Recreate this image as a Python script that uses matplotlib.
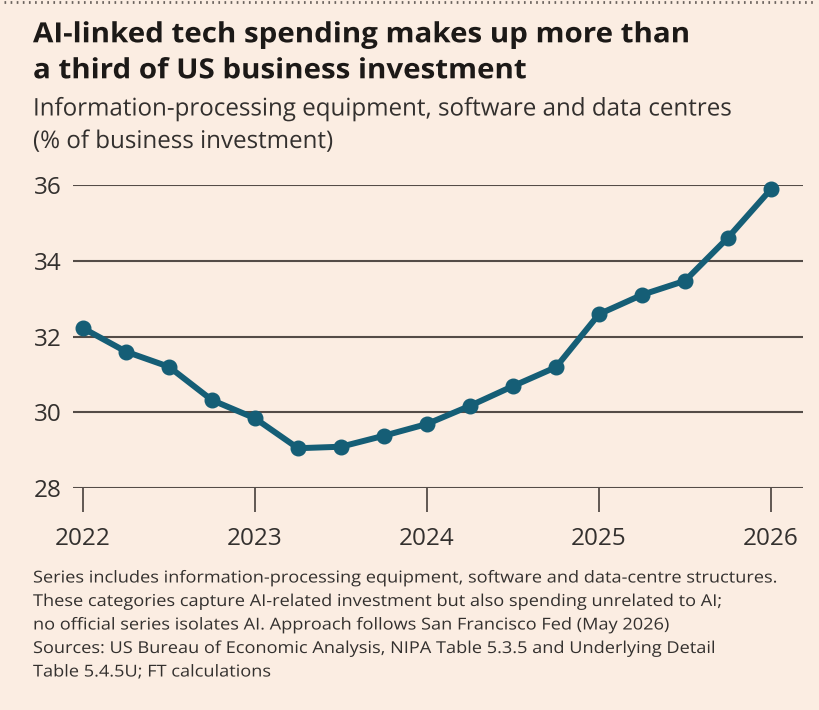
import matplotlib.pyplot as plt
from matplotlib.lines import Line2D
from matplotlib.patheffects import AbstractPathEffect
from matplotlib.transforms import Affine2D

# quarterly, 2022 Q1 .. 2026 Q1
quarters = [2022.0, 2022.25, 2022.5, 2022.75,
            2023.0, 2023.25, 2023.5, 2023.75,
            2024.0, 2024.25, 2024.5, 2024.75,
            2025.0, 2025.25, 2025.5, 2025.75,
            2026.0]
share = [32.22, 31.60, 31.20, 30.32,
         29.84, 29.05, 29.09, 29.38,
         29.69, 30.17, 30.69, 31.19,
         32.59, 33.10, 33.47, 34.61,
         35.89]
year_ticks = [2022, 2023, 2024, 2025, 2026]
y_ticks = [28, 30, 32, 34, 36]

title = ["AI-linked tech spending makes up more than",
         "a third of US business investment"]
subtitle = ["Information-processing equipment, software and data centres",
            "(% of business investment)"]
notes = ["Series includes information-processing equipment, software and data-centre structures.",
         "These categories capture AI-related investment but also spending unrelated to AI;",
         "no official series isolates AI. Approach follows San Francisco Fed (May 2026)",
         "Sources: US Bureau of Economic Analysis, NIPA Table 5.3.5 and Underlying Detail",
         "Table 5.4.5U; FT calculations"]

plt.rcParams['font.family'] = ['Open Sans', 'DejaVu Sans']

bg = '#FBEDE2'
teal = '#155E76'
grid = '#544c47'
txt = '#33302e'

W, H = 820, 710
fig = plt.figure(figsize=(8.2, 7.1), dpi=100, facecolor=bg)
ax = fig.add_axes([73/W, 1-488/H, 730/W, 303/H], facecolor=bg)

ax.plot(quarters, share, color=teal, lw=4.3, marker='o', ms=10.5, clip_on=False, zorder=3)

ax.set_xlim(2022 - 10/172, 2026 + 32/172)
ax.set_ylim(28, 36)
ax.set_yticks(y_ticks)
ax.set_xticks(year_ticks)
ax.set_yticklabels([str(v) for v in y_ticks])
ax.set_xticklabels([str(v) for v in year_ticks])
for v in y_ticks:
    ax.axhline(v, color=grid, lw=1.5, zorder=1)
for s in ax.spines.values():
    s.set_visible(False)
ax.tick_params(axis='y', length=0, pad=8, labelsize=17.5, labelcolor=txt)
ax.tick_params(axis='x', length=17, width=1.3, color=grid, pad=11, labelsize=17.5, labelcolor=txt)


# stretch/narrow each text block so its first line matches the reference width
class Squeeze(AbstractPathEffect):
    def __init__(self, sx, x0):
        super().__init__()
        self.sx = sx
        self.x0 = x0

    def draw_path(self, renderer, gc, tpath, affine, rgbFace=None):
        t = affine + Affine2D().translate(-self.x0, 0).scale(self.sx, 1).translate(self.x0, 0)
        renderer.draw_path(gc, tpath, t, rgbFace)


X0 = 33


def text_block(lines, baselines, size, target_w, **kw):
    objs = [fig.text(X0/W, 1-b/H, s, fontsize=size, va='baseline', **kw)
            for s, b in zip(lines, baselines)]
    fig.canvas.draw()
    w = objs[0].get_window_extent(fig.canvas.get_renderer()).width
    for t in objs:
        t.set_path_effects([Squeeze(target_w / w, X0)])


text_block(title, [42.3, 78.3], 20, 657, fontweight='bold', color='#1c1917')
text_block(subtitle, [115.5, 148], 17.5, 699, color=txt)
text_block(notes, [582.5, 606, 629.5, 653, 676.5], 11.8, 744, color=txt)

# dotted rule along the top
fig.add_artist(Line2D([0.005, 0.995], [1-2/H, 1-2/H], transform=fig.transFigure,
                      color='#6b635e', lw=2, ls=(0, (0.6, 1.6))))

fig.savefig('out.png', dpi=100, facecolor=bg)
